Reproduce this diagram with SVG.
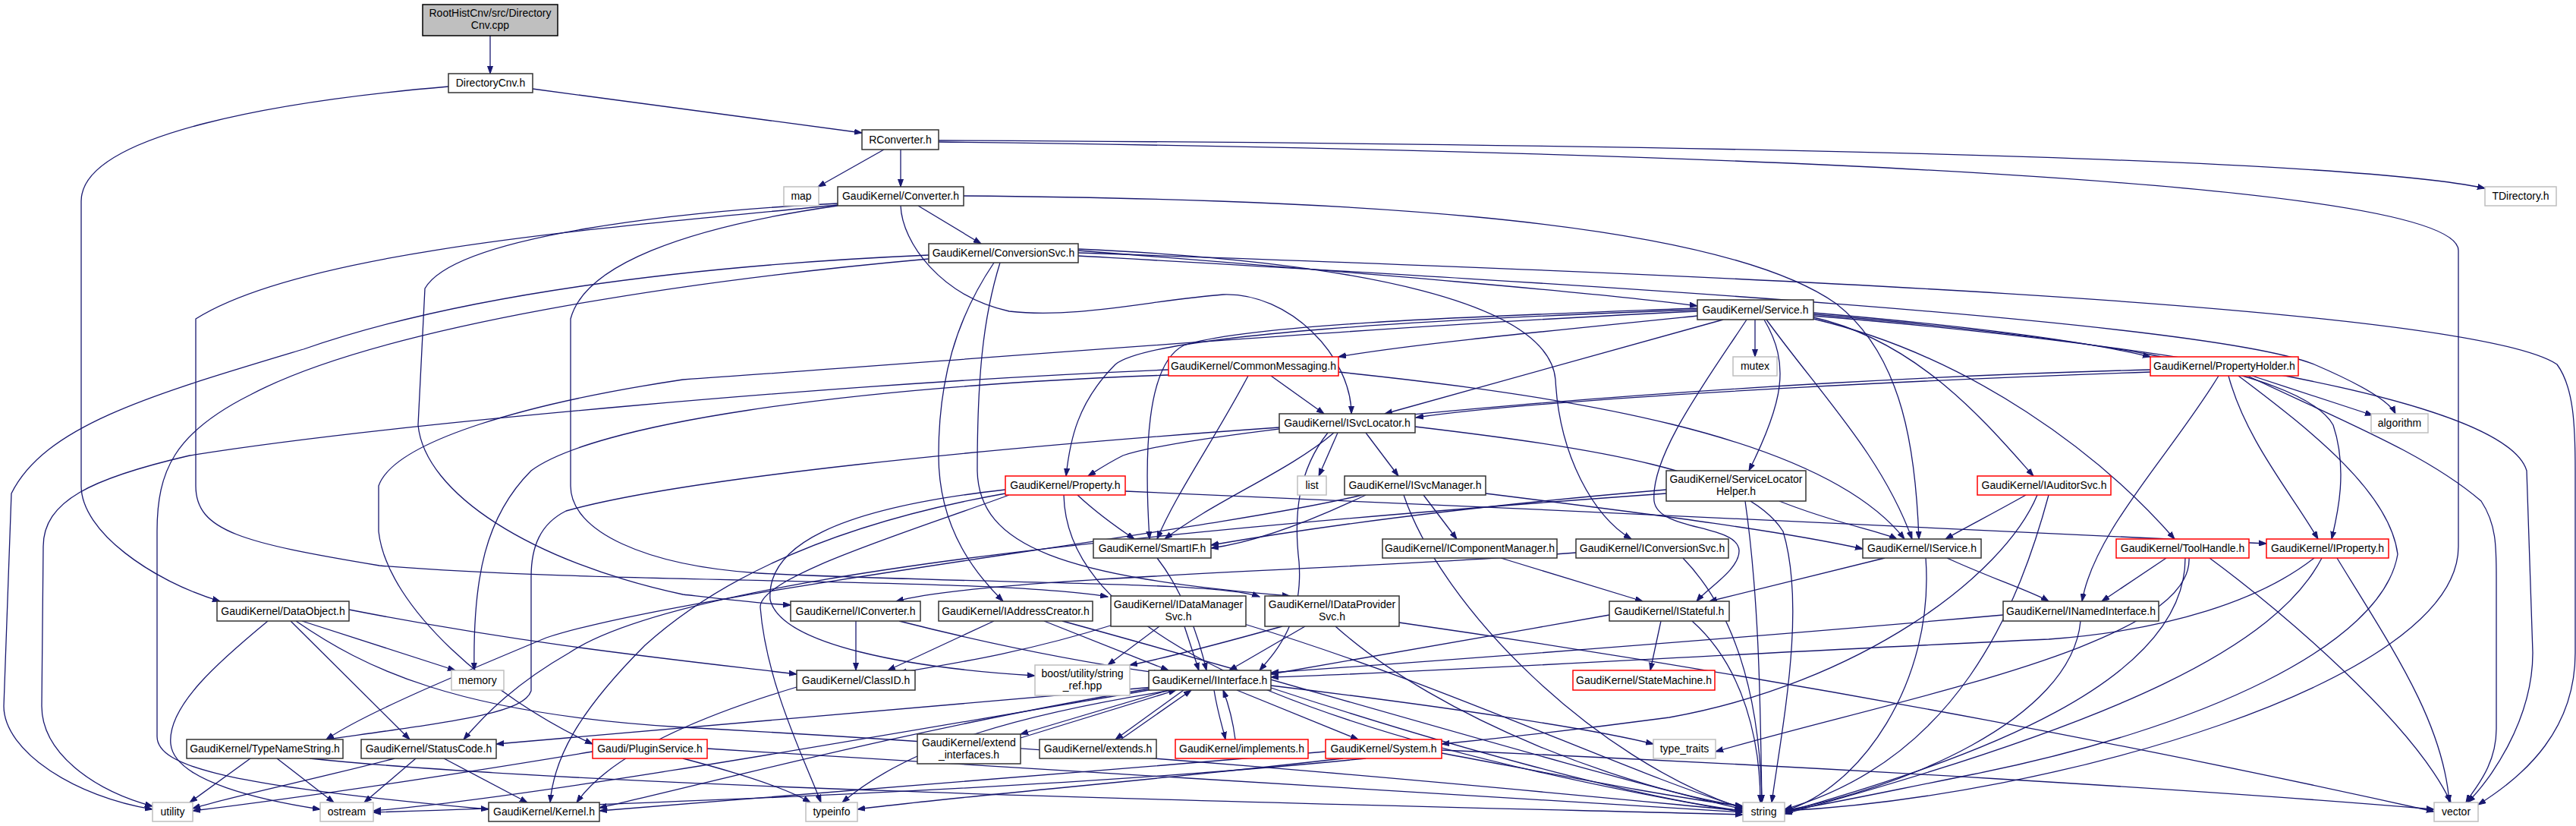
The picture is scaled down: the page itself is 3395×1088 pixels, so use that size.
<svg xmlns="http://www.w3.org/2000/svg" width="3395" height="1088" viewBox="0 0 3395 1088">
<defs>
<marker id="arr" markerWidth="11" markerHeight="8" refX="10" refY="4" orient="auto" markerUnits="userSpaceOnUse"><path d="M0,0.5 L10,4 L0,7.5 z" fill="#191970" stroke="#191970" stroke-width="1"/></marker>
<style>
.e{fill:none;stroke:#191970;stroke-width:1.3;marker-end:url(#arr)}
.n rect{fill:#fff;stroke:#333;stroke-width:1.5}
.g rect{fill:#fff;stroke:#bfbfbf;stroke-width:1.5}
.r rect{fill:#fff;stroke:#ff0000;stroke-width:1.5}
.root rect{fill:#bfbfbf;stroke:#000;stroke-width:1.5}
text{font-family:"Liberation Sans",Arial,sans-serif;font-size:14px;fill:#000;text-anchor:middle}
</style>
</defs>
<rect width="3395" height="1088" fill="#fff"/>
<g id="edges">
<path class="e" d="M646,47 L646,97"/>
<path class="e" d="M702,117 L1136,175"/>
<path class="e" d="M591,114 C380,132 107,175 107,265 L107,640 C107,700 200,765 290,792"/>
<path class="e" d="M1165,197 L1078,246"/>
<path class="e" d="M1187,197 L1187,246"/>
<path class="e" d="M1237,185 C1900,188 3050,200 3275,248"/>
<path class="e" d="M1237,187 C2300,200 3240,240 3240,330 L3240,720 C3240,900 2700,1050 2352,1068"/>
<path class="e" d="M1210,271 L1293,321"/>
<path class="e" d="M1187,271 C1189,320 1240,390 1330,410 C1420,420 1520,395 1612,388 C1700,385 1781,470 1781,545"/>
<path class="e" d="M1270,258 C1700,262 2250,280 2420,400 C2510,470 2525,600 2529,710"/>
<path class="e" d="M1104,268 C900,278 600,310 560,380 L551,560 C560,650 700,740 900,783 C960,790 1000,795 1042,797"/>
<path class="e" d="M1104,270 C800,300 400,330 258,420 L258,640 C258,700 320,715 500,745 C800,770 1300,760 1460,786"/>
<path class="e" d="M1104,271 C900,300 770,350 752,420 L752,640 C752,700 850,745 1000,755 C1300,770 1600,765 1660,786"/>
<path class="e" d="M1421,330 C1800,360 2100,385 2237,403"/>
<path class="e" d="M1421,328 C1800,345 2041,400 2050,500 C2055,600 2100,680 2150,710"/>
<path class="e" d="M1310,346 C1260,420 1237,500 1237,600 C1237,700 1290,760 1322,792"/>
<path class="e" d="M1318,346 C1295,420 1288,500 1288,620 C1290,720 1400,760 1700,785"/>
<path class="e" d="M1421,333 C2200,360 3250,400 3370,480 C3392,510 3394,560 3394,620 L3394,860 C3394,960 3330,1020 3266,1060"/>
<path class="e" d="M1421,337 C2000,370 2900,420 3050,480 C3120,510 3150,530 3157,545"/>
<path class="e" d="M1224,336 C900,350 600,390 400,460 C200,520 60,560 15,650 L5,930 C5,990 100,1050 201,1066"/>
<path class="e" d="M1224,341 C900,370 500,430 330,520 C230,570 207,620 207,700 L207,970 C207,1010 300,1035 644,1066"/>
<path class="e" d="M2313,421 L2313,470"/>
<path class="e" d="M2271,421 L1825,545"/>
<path class="e" d="M2325,421 C2360,480 2350,530 2305,620"/>
<path class="e" d="M2328,421 C2400,520 2480,600 2520,710"/>
<path class="e" d="M2302,421 C2250,500 2175,600 2180,660 C2185,700 2290,690 2292,725 C2293,750 2250,775 2236,792"/>
<path class="e" d="M2237,416 C2000,440 1850,455 1764,470"/>
<path class="e" d="M2237,406 C2000,415 1650,425 1560,455 C1510,480 1508,600 1515,710"/>
<path class="e" d="M2237,408 C1900,420 1520,440 1470,480 C1420,530 1410,580 1405,627"/>
<path class="e" d="M2237,410 C1800,430 1200,480 900,500 C700,530 520,580 499,640 L499,700 C510,800 650,920 781,980"/>
<path class="e" d="M2390,412 C2600,430 2750,450 2834,470"/>
<path class="e" d="M2390,418 C2530,450 2620,560 2680,627"/>
<path class="e" d="M2390,420 C2600,470 2770,600 2866,710"/>
<path class="e" d="M2390,414 C2700,440 3030,480 3075,560 C3095,620 3080,680 3073,710"/>
<path class="e" d="M2390,416 C2800,450 3300,520 3330,620 L3338,860 C3338,950 3280,1030 3252,1057"/>
<path class="e" d="M1675,495 L1745,545"/>
<path class="e" d="M1645,495 C1600,580 1550,650 1525,710"/>
<path class="e" d="M1764,490 C2050,520 2400,570 2510,710"/>
<path class="e" d="M1540,487 C1100,505 500,560 250,600 C120,630 57,660 57,720 L55,930 C55,990 120,1040 201,1062"/>
<path class="e" d="M1540,494 C1100,510 780,560 700,620 C640,680 623,760 625,883"/>
<path class="e" d="M2834,487 C2300,500 1600,560 1480,600 C1460,610 1445,620 1434,627"/>
<path class="e" d="M2834,490 C2400,505 2000,530 1866,550"/>
<path class="e" d="M2937,495 C2960,580 3020,650 3055,710"/>
<path class="e" d="M2924,495 C2860,600 2760,700 2744,792"/>
<path class="e" d="M2968,495 L3127,547"/>
<path class="e" d="M2962,495 C3100,560 3200,600 3270,660 C3290,690 3290,720 3290,760 L3290,960 C3290,1010 3260,1040 3250,1057"/>
<path class="e" d="M2950,495 C3050,570 3150,650 3160,730 C3140,850 2900,960 2600,1020 C2450,1050 2380,1065 2352,1068"/>
<path class="e" d="M1800,570 L1843,627"/>
<path class="e" d="M1763,570 L1738,627"/>
<path class="e" d="M1758,570 C1700,620 1600,660 1535,710"/>
<path class="e" d="M1686,563 C1300,590 900,630 746,673 C712,690 700,720 700,760 L700,910 C690,940 600,950 430,974"/>
<path class="e" d="M1865,562 C2100,590 2300,620 2350,700 C2380,800 2350,950 2335,1057"/>
<path class="e" d="M1750,570 C1710,620 1705,680 1712,740 C1718,820 1680,860 1660,883"/>
<path class="e" d="M1800,652 C1720,690 1650,715 1596,722"/>
<path class="e" d="M1876,652 L1920,710"/>
<path class="e" d="M1958,650 C2200,680 2350,700 2455,723"/>
<path class="e" d="M1795,652 C1600,700 900,780 720,840 C600,890 480,940 430,974"/>
<path class="e" d="M1850,652 C1900,800 2100,1000 2297,1065"/>
<path class="e" d="M2345,660 C2420,690 2480,700 2500,710"/>
<path class="e" d="M2300,660 C2320,800 2320,950 2322,1057"/>
<path class="e" d="M2196,645 C1900,670 1700,700 1596,718"/>
<path class="e" d="M2196,650 C1500,700 900,760 750,860 C680,900 640,940 611,974"/>
<path class="e" d="M2670,652 C2620,680 2590,695 2564,710"/>
<path class="e" d="M2685,652 C2640,760 2450,900 2200,945 C2050,965 1950,975 1900,980"/>
<path class="e" d="M2700,652 C2660,800 2580,1000 2352,1066"/>
<path class="e" d="M1420,652 C1450,680 1480,700 1495,710"/>
<path class="e" d="M1483,647 C2000,670 2700,700 2987,716"/>
<path class="e" d="M1330,652 C1200,700 1000,760 1002,800 C1010,900 1060,1000 1082,1057"/>
<path class="e" d="M1325,645 C1100,670 1010,720 1015,790 C1030,850 1200,880 1364,890"/>
<path class="e" d="M1325,650 C1100,690 950,760 850,850 C760,940 730,1000 725,1057"/>
<path class="e" d="M1402,652 C1405,800 1600,950 2297,1070"/>
<path class="e" d="M1525,735 C1560,780 1580,840 1590,883"/>
<path class="e" d="M1978,735 L2165,792"/>
<path class="e" d="M2077,728 C1800,750 1300,760 1181,792"/>
<path class="e" d="M2218,735 C2300,820 2320,950 2322,1057"/>
<path class="e" d="M2484,735 L2253,792"/>
<path class="e" d="M2566,735 C2620,760 2680,780 2700,792"/>
<path class="e" d="M2538,735 C2550,900 2450,1040 2352,1068"/>
<path class="e" d="M2855,735 L2770,792"/>
<path class="e" d="M2880,735 C2880,900 2600,1000 2352,1070"/>
<path class="e" d="M2885,735 C2890,850 2500,920 2261,990"/>
<path class="e" d="M2912,735 C3000,800 3180,950 3230,1057"/>
<path class="e" d="M3050,735 C2980,790 2860,830 2700,842 C2300,860 1900,885 1675,892"/>
<path class="e" d="M3060,735 C3000,850 2800,950 2352,1072"/>
<path class="e" d="M3080,735 C3150,850 3220,950 3228,1057"/>
<path class="e" d="M2189,818 L2175,883"/>
<path class="e" d="M2121,810 C1950,840 1750,875 1675,888"/>
<path class="e" d="M2230,818 C2300,880 2320,980 2320,1057"/>
<path class="e" d="M2640,810 C2300,840 1900,870 1675,886"/>
<path class="e" d="M2742,818 C2730,950 2500,1040 2352,1068"/>
<path class="e" d="M460,803 C700,850 900,870 1050,888"/>
<path class="e" d="M398,818 L600,883"/>
<path class="e" d="M383,818 L540,974"/>
<path class="e" d="M353,818 C290,870 220,930 225,980 C230,1030 350,1055 422,1066"/>
<path class="e" d="M390,818 C480,880 600,940 900,958 C1500,990 2000,1040 2297,1068"/>
<path class="e" d="M1128,818 L1128,883"/>
<path class="e" d="M1185,818 C1350,860 1480,880 1530,887"/>
<path class="e" d="M1310,818 L1170,883"/>
<path class="e" d="M1376,818 L1540,883"/>
<path class="e" d="M1400,818 C1700,900 2100,1020 2297,1066"/>
<path class="e" d="M1528,825 L1460,876"/>
<path class="e" d="M1561,825 L1580,883"/>
<path class="e" d="M1470,822 C1350,860 1250,875 1185,886"/>
<path class="e" d="M1640,822 C1900,900 2150,1020 2297,1064"/>
<path class="e" d="M1690,825 C1600,850 1520,870 1489,876"/>
<path class="e" d="M1720,825 L1620,883"/>
<path class="e" d="M1760,825 C1900,950 2150,1040 2297,1062"/>
<path class="e" d="M1844,820 C2400,900 2900,1000 3208,1069"/>
<path class="e" d="M1050,905 C900,950 800,1000 760,1057"/>
<path class="e" d="M1540,909 L1345,967"/>
<path class="e" d="M1345,972 L1550,909"/>
<path class="e" d="M1560,909 L1470,974"/>
<path class="e" d="M1477,974 L1570,909"/>
<path class="e" d="M1600,909 C1605,940 1612,960 1615,974"/>
<path class="e" d="M1628,974 C1625,950 1618,925 1612,909"/>
<path class="e" d="M1630,909 L1790,974"/>
<path class="e" d="M1675,903 C1900,930 2100,960 2179,980"/>
<path class="e" d="M1545,909 C1350,940 1200,980 1110,1057"/>
<path class="e" d="M1520,905 C1200,930 900,960 654,980"/>
<path class="e" d="M1515,907 C1200,960 900,1040 790,1064"/>
<path class="e" d="M1520,908 C1100,980 700,1050 492,1068"/>
<path class="e" d="M1675,906 C1900,980 2150,1050 2297,1068"/>
<path class="e" d="M330,999 L250,1057"/>
<path class="e" d="M365,999 L440,1057"/>
<path class="e" d="M408,999 C800,1040 1800,1060 2297,1073"/>
<path class="e" d="M520,999 C400,1030 300,1050 254,1065"/>
<path class="e" d="M548,999 L480,1057"/>
<path class="e" d="M585,999 L695,1057"/>
<path class="e" d="M781,990 C600,1020 400,1050 254,1068"/>
<path class="e" d="M900,999 C980,1020 1040,1040 1068,1057"/>
<path class="e" d="M932,986 C1300,1010 2000,1050 2297,1070"/>
<path class="e" d="M1747,990 C1400,1020 1000,1050 790,1068"/>
<path class="e" d="M1770,999 C1500,1030 1250,1050 1130,1066"/>
<path class="e" d="M1900,992 C2050,1020 2200,1050 2297,1062"/>
<path class="e" d="M1900,988 C2400,1010 2900,1040 3208,1066"/>
<path class="e" d="M1800,999 C1400,1040 800,1060 492,1070"/>
</g>
<g id="node-cpp" class="root"><rect x="557" y="6" width="178" height="41"/><text x="646" y="22">RootHistCnv/src/Directory</text><text x="646" y="38">Cnv.cpp</text></g>
<g id="node-DirectoryCnv" class="n"><rect x="591" y="97" width="111" height="25"/><text x="646.5" y="114">DirectoryCnv.h</text></g>
<g id="node-RConverter" class="n"><rect x="1136" y="171" width="101" height="26"/><text x="1186.5" y="189">RConverter.h</text></g>
<g id="node-map" class="g"><rect x="1033" y="246" width="46" height="25"/><text x="1056" y="263">map</text></g>
<g id="node-Converter" class="n"><rect x="1104" y="246" width="166" height="25"/><text x="1187" y="263">GaudiKernel/Converter.h</text></g>
<g id="node-TDirectory" class="g"><rect x="3275" y="246" width="94" height="25"/><text x="3322" y="263">TDirectory.h</text></g>
<g id="node-ConversionSvc" class="n"><rect x="1224" y="321" width="197" height="25"/><text x="1322.5" y="338">GaudiKernel/ConversionSvc.h</text></g>
<g id="node-Service" class="n"><rect x="2237" y="395" width="153" height="26"/><text x="2313.5" y="413">GaudiKernel/Service.h</text></g>
<g id="node-mutex" class="g"><rect x="2284" y="470" width="58" height="25"/><text x="2313" y="487">mutex</text></g>
<g id="node-CommonMessaging" class="r"><rect x="1540" y="470" width="224" height="25"/><text x="1652" y="487">GaudiKernel/CommonMessaging.h</text></g>
<g id="node-PropertyHolder" class="r"><rect x="2834" y="470" width="195" height="25"/><text x="2931.5" y="487">GaudiKernel/PropertyHolder.h</text></g>
<g id="node-ISvcLocator" class="n"><rect x="1686" y="545" width="179" height="25"/><text x="1775.5" y="562">GaudiKernel/ISvcLocator.h</text></g>
<g id="node-algorithm" class="g"><rect x="3125" y="545" width="75" height="25"/><text x="3162.5" y="562">algorithm</text></g>
<g id="node-list" class="g"><rect x="1710" y="627" width="38" height="25"/><text x="1729" y="644">list</text></g>
<g id="node-ISvcManager" class="n"><rect x="1772" y="627" width="186" height="25"/><text x="1865" y="644">GaudiKernel/ISvcManager.h</text></g>
<g id="node-ServiceLocatorHelper" class="n"><rect x="2196" y="620" width="184" height="40"/><text x="2288" y="636">GaudiKernel/ServiceLocator</text><text x="2288" y="652">Helper.h</text></g>
<g id="node-IAuditorSvc" class="r"><rect x="2606" y="627" width="176" height="25"/><text x="2694" y="644">GaudiKernel/IAuditorSvc.h</text></g>
<g id="node-Property" class="r"><rect x="1325" y="627" width="158" height="25"/><text x="1404" y="644">GaudiKernel/Property.h</text></g>
<g id="node-SmartIF" class="n"><rect x="1441" y="710" width="155" height="25"/><text x="1518.5" y="727">GaudiKernel/SmartIF.h</text></g>
<g id="node-IComponentManager" class="n"><rect x="1822" y="710" width="230" height="25"/><text x="1937" y="727">GaudiKernel/IComponentManager.h</text></g>
<g id="node-IConversionSvc" class="n"><rect x="2077" y="710" width="201" height="25"/><text x="2177.5" y="727">GaudiKernel/IConversionSvc.h</text></g>
<g id="node-IService" class="n"><rect x="2455" y="710" width="156" height="25"/><text x="2533" y="727">GaudiKernel/IService.h</text></g>
<g id="node-ToolHandle" class="r"><rect x="2789" y="710" width="175" height="25"/><text x="2876.5" y="727">GaudiKernel/ToolHandle.h</text></g>
<g id="node-IProperty" class="r"><rect x="2987" y="710" width="161" height="25"/><text x="3067.5" y="727">GaudiKernel/IProperty.h</text></g>
<g id="node-DataObject" class="n"><rect x="286" y="792" width="174" height="26"/><text x="373" y="810">GaudiKernel/DataObject.h</text></g>
<g id="node-IConverter" class="n"><rect x="1042" y="792" width="171" height="26"/><text x="1127.5" y="810">GaudiKernel/IConverter.h</text></g>
<g id="node-IAddressCreator" class="n"><rect x="1237" y="792" width="203" height="26"/><text x="1338.5" y="810">GaudiKernel/IAddressCreator.h</text></g>
<g id="node-IDataManagerSvc" class="n"><rect x="1464" y="785" width="178" height="40"/><text x="1553" y="801">GaudiKernel/IDataManager</text><text x="1553" y="817">Svc.h</text></g>
<g id="node-IDataProviderSvc" class="n"><rect x="1667" y="785" width="177" height="40"/><text x="1755.5" y="801">GaudiKernel/IDataProvider</text><text x="1755.5" y="817">Svc.h</text></g>
<g id="node-IStateful" class="n"><rect x="2121" y="792" width="158" height="26"/><text x="2200" y="810">GaudiKernel/IStateful.h</text></g>
<g id="node-INamedInterface" class="n"><rect x="2640" y="792" width="205" height="26"/><text x="2742.5" y="810">GaudiKernel/INamedInterface.h</text></g>
<g id="node-memory" class="g"><rect x="595" y="883" width="69" height="26"/><text x="629.5" y="901">memory</text></g>
<g id="node-ClassID" class="n"><rect x="1050" y="883" width="156" height="26"/><text x="1128" y="901">GaudiKernel/ClassID.h</text></g>
<g id="node-boost" class="g"><rect x="1364" y="876" width="125" height="40"/><text x="1426.5" y="892">boost/utility/string</text><text x="1426.5" y="908">_ref.hpp</text></g>
<g id="node-IInterface" class="n"><rect x="1514" y="883" width="161" height="26"/><text x="1594.5" y="901">GaudiKernel/IInterface.h</text></g>
<g id="node-StateMachine" class="r"><rect x="2073" y="883" width="187" height="26"/><text x="2166.5" y="901">GaudiKernel/StateMachine.h</text></g>
<g id="node-TypeNameString" class="n"><rect x="246" y="974" width="206" height="25"/><text x="349" y="991">GaudiKernel/TypeNameString.h</text></g>
<g id="node-StatusCode" class="n"><rect x="476" y="974" width="178" height="25"/><text x="565" y="991">GaudiKernel/StatusCode.h</text></g>
<g id="node-PluginService" class="r"><rect x="781" y="974" width="151" height="25"/><text x="856.5" y="991">Gaudi/PluginService.h</text></g>
<g id="node-extend_interfaces" class="n"><rect x="1209" y="967" width="136" height="39"/><text x="1277" y="983">GaudiKernel/extend</text><text x="1277" y="999">_interfaces.h</text></g>
<g id="node-extends" class="n"><rect x="1370" y="974" width="154" height="25"/><text x="1447" y="991">GaudiKernel/extends.h</text></g>
<g id="node-implements" class="r"><rect x="1549" y="974" width="175" height="25"/><text x="1636.5" y="991">GaudiKernel/implements.h</text></g>
<g id="node-System" class="r"><rect x="1747" y="974" width="153" height="25"/><text x="1823.5" y="991">GaudiKernel/System.h</text></g>
<g id="node-type_traits" class="g"><rect x="2179" y="974" width="82" height="25"/><text x="2220" y="991">type_traits</text></g>
<g id="node-utility" class="g"><rect x="201" y="1057" width="53" height="25"/><text x="227.5" y="1074">utility</text></g>
<g id="node-ostream" class="g"><rect x="422" y="1057" width="70" height="25"/><text x="457" y="1074">ostream</text></g>
<g id="node-Kernel" class="n"><rect x="644" y="1057" width="146" height="25"/><text x="717" y="1074">GaudiKernel/Kernel.h</text></g>
<g id="node-typeinfo" class="g"><rect x="1062" y="1057" width="68" height="25"/><text x="1096" y="1074">typeinfo</text></g>
<g id="node-string" class="g"><rect x="2297" y="1057" width="55" height="25"/><text x="2324.5" y="1074">string</text></g>
<g id="node-vector" class="g"><rect x="3208" y="1057" width="58" height="25"/><text x="3237" y="1074">vector</text></g>
</svg>
